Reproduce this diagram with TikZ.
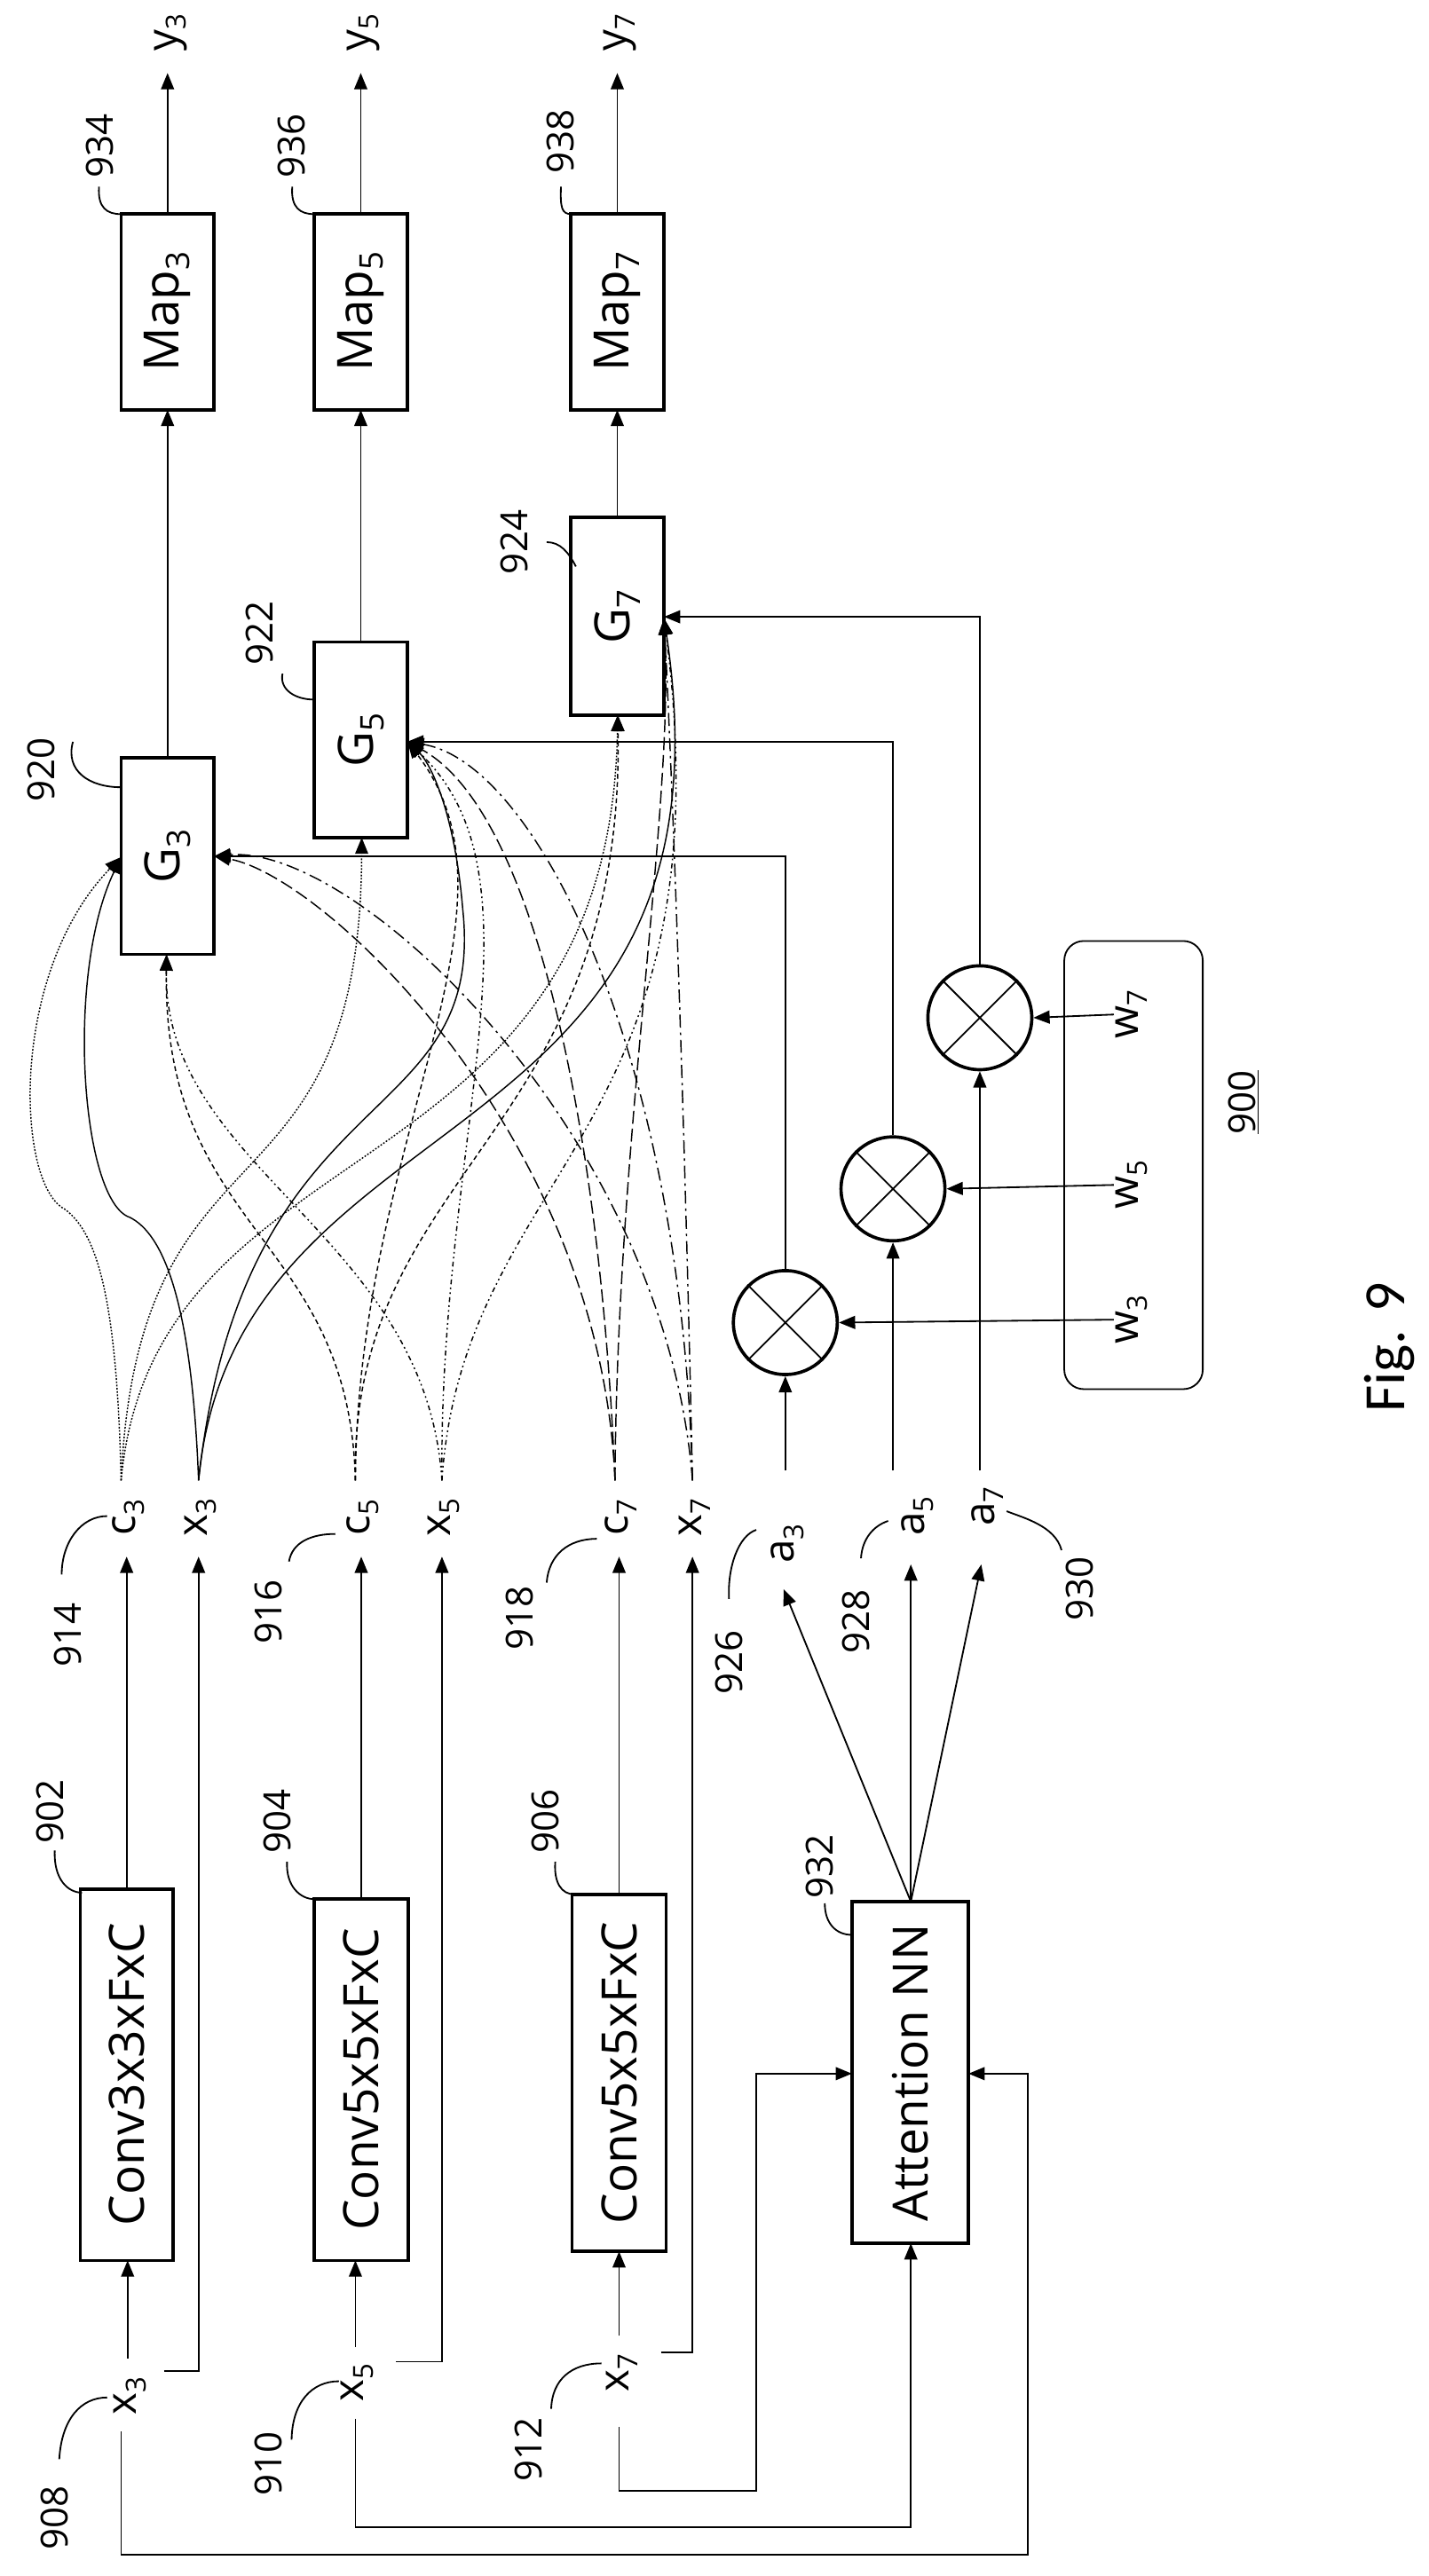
\documentclass[tikz,border=0pt]{standalone}
\usepackage{fontspec}
\setmainfont{Open Sans}
\newfontfamily\figfont{Carlito}
\usetikzlibrary{arrows.meta}
\newcommand{\sbs}[1]{\raisebox{-0.4ex}{\fontsize{17}{19}\selectfont #1}}
\newcommand{\sbb}[1]{\raisebox{-0.4ex}{\fontsize{20}{22}\selectfont #1}}
\begin{document}
\begin{tikzpicture}[x=1pt,y=-1pt,
  lbl/.style={rotate=90,font=\fontsize{26}{30}\selectfont,inner sep=1pt},
  blbl/.style={rotate=90,font=\fontsize{30}{34}\selectfont,inner sep=1pt},
  num/.style={rotate=90,font=\fontsize{23}{27}\selectfont,inner sep=1pt},
  ar/.style={-{Triangle[length=10pt,width=8pt]},line width=1pt},
  ln/.style={line width=1pt},
  bx/.style={line width=2pt},
  hk/.style={line width=1pt},
  sc3/.style={ar,densely dotted,line width=0.8pt},
  sx3/.style={ar,line width=0.8pt},
  sc5/.style={ar,densely dashed,line width=0.8pt},
  sx5/.style={ar,dash pattern=on 3pt off 2pt on 1pt off 2pt on 1pt off 2pt,line width=0.8pt},
  sc7/.style={ar,dash pattern=on 8pt off 3pt,line width=0.8pt},
  sx7/.style={ar,dash pattern=on 8pt off 3pt on 1.5pt off 3pt,line width=0.8pt},
  mul/.style={draw,circle,line width=2pt,minimum size=64pt,inner sep=0pt}]
\useasboundingbox (0,0) rectangle (880,1587);
% conv boxes
\draw[bx] (49.4,1164) rectangle (106.6,1392.6); \node[blbl] (conv3) at (78,1278) {Conv3x3xFxC};
\draw[bx] (193.6,1170) rectangle (251.4,1392.6); \node[blbl] (conv5) at (222.5,1281) {Conv5x5xFxC};
\draw[bx] (352.4,1167) rectangle (410.2,1387); \node[blbl] (conv7) at (381.3,1277) {Conv5x5xFxC};
\draw[bx] (524.7,1171.5) rectangle (596.5,1382); \node[blbl] (att) at (560.6,1277) {Attention NN};
% G and Map boxes
\draw[bx] (74.6,467) rectangle (131.9,588); \node[blbl] (g3) at (103.2,527.5) {G\sbb{3}};
\draw[bx] (193.6,395.6) rectangle (250.8,516); \node[blbl] (g5) at (222.2,456) {G\sbb{5}};
\draw[bx] (351.5,318.7) rectangle (409,440.5); \node[blbl] (g7) at (380.2,380) {G\sbb{7}};
\draw[bx] (74.6,131.9) rectangle (131.9,252.5); \node[blbl] (m3) at (103.2,192) {Map\sbb{3}};
\draw[bx] (193.6,131.9) rectangle (250.8,252.5); \node[blbl] (m5) at (222.2,192) {Map\sbb{5}};
\draw[bx] (351.5,131.9) rectangle (409,252.5); \node[blbl] (m7) at (380.2,192) {Map\sbb{7}};
% inputs
\node[lbl] (ix3) at (80,1476) {x\sbs{3}};
\node[lbl] (ix5) at (220,1468) {x\sbs{5}};
\node[lbl] (ix7) at (383,1462) {x\sbs{7}};
\draw[ar] (78.6,1453) -- (78.6,1392.6);
\draw[ar] (218.9,1446) -- (218.9,1392.6);
\draw[ar] (381.3,1439) -- (381.3,1387);
\draw[ar] (101,1460.5) -- (122.3,1460.5) -- (122.3,959);
\draw[ar] (244,1455) -- (272.2,1455) -- (272.2,959);
\draw[ar] (407,1449) -- (426.5,1449) -- (426.5,959);
\draw[ar] (381.3,1495) -- (381.3,1534.6) -- (465.8,1534.6) -- (465.8,1277.5) -- (524.7,1277.5);
\draw[ar] (218.9,1490) -- (218.9,1557) -- (561,1557) -- (561,1382);
\draw[ar] (74.6,1498) -- (74.6,1573.8) -- (633,1573.8) -- (633,1277.5) -- (596.5,1277.5);
% conv outputs
\draw[ar] (78,1164) -- (78,959); \node[lbl] (c3) at (79,935) {c\sbs{3}};
\draw[ar] (222.5,1170) -- (222.5,959); \node[lbl] (c5) at (223.5,935) {c\sbs{5}};
\draw[ar] (381.3,1167) -- (381.3,959); \node[lbl] (c7) at (382.3,935) {c\sbs{7}};
\node[lbl] (x3) at (123.5,935) {x\sbs{3}};
\node[lbl] (x5) at (273.5,935) {x\sbs{5}};
\node[lbl] (x7) at (428,935) {x\sbs{7}};
% attention outputs
\draw[ar] (561,1171.5) -- (482.6,979); \node[lbl] (a3) at (485,951) {a\sbs{3}};
\draw[ar] (561,1171.5) -- (561,963.8); \node[lbl] (a5) at (565,934) {a\sbs{5}};
\draw[ar] (561,1171.5) -- (604.4,963.8); \node[lbl] (a7) at (608,928) {a\sbs{7}};
% multipliers
\node[mul] (p3) at (483.7,814.8) {}; \draw[ln] (p3.north west)--(p3.south east) (p3.north east)--(p3.south west);
\node[mul] (p5) at (550,732.4) {}; \draw[ln] (p5.north west)--(p5.south east) (p5.north east)--(p5.south west);
\node[mul] (p7) at (603.5,627) {}; \draw[ln] (p7.north west)--(p7.south east) (p7.north east)--(p7.south west);
\draw[line width=1pt,rounded corners=12pt] (655.5,579.7) rectangle (740.8,855.8);
\node[lbl] (w3) at (697,813) {w\sbs{3}};
\node[lbl] (w5) at (697,730) {w\sbs{5}};
\node[lbl] (w7) at (697,625) {w\sbs{7}};
\draw[ar] (w3.north) -- (p3.east);
\draw[ar] (w5.north) -- (p5.east);
\draw[ar] (w7.north) -- (p7.east);
\draw[ar] (483.7,906) -- (p3.south);
\draw[ar] (550,906) -- (p5.south);
\draw[ar] (603.5,906) -- (p7.south);
\draw[ar] (p3.north) -- (483.7,527.5) -- (131.9,527.5);
\draw[ar] (p5.north) -- (550,457) -- (250.8,457);
\draw[ar] (p7.north) -- (603.5,380) -- (409,380);
% G -> Map -> y
\draw[ar] (103.2,467) -- (103.2,252.5); \draw[ar] (103.2,131.9) -- (103.2,45); \node[lbl] (y3) at (105,20) {y\sbs{3}};
\draw[ar] (222.2,395.6) -- (222.2,252.5); \draw[ar] (222.2,131.9) -- (222.2,45); \node[lbl] (y5) at (224,20) {y\sbs{5}};
\draw[ar] (380.2,318.7) -- (380.2,252.5); \draw[ar] (380.2,131.9) -- (380.2,45); \node[lbl] (y7) at (382,20) {y\sbs{7}};
% curves
\coordinate (sc3) at (74.6,912); \coordinate (sx3) at (122.3,912);
\coordinate (sc5) at (218.9,912); \coordinate (sx5) at (272.2,912);
\coordinate (sc7) at (378.8,912); \coordinate (sx7) at (426.5,912);
\draw[sc3] (sc3) .. controls (72,800) and (60,760) .. (40,745) .. controls (10,730) and (5,600) .. (74.6,528);
\draw[sx3] (sx3) .. controls (118,800) and (100,760) .. (80,750) .. controls (50,740) and (40,600) .. (74.6,528);
\draw[sc5] (sc5) .. controls (215,760) and (100,760) .. (102.6,588);
\draw[sx5] (sx5) .. controls (262,760) and (100,720) .. (102.6,588);
\draw[sc7] (sc7) .. controls (370,700) and (200,540) .. (131.9,527.5);
\draw[sx7] (sx7) .. controls (410,700) and (220,520) .. (131.9,527.5);
\draw[sc3] (sc3) .. controls (85,680) and (222,760) .. (222.8,516);
\draw[sx3] (sx3) .. controls (150,660) and (300,700) .. (285,560) .. controls (280,500) and (265,470) .. (251,457);
\draw[sc5] (sc5) .. controls (220,700) and (330,560) .. (251,457);
\draw[sx5] (sx5) .. controls (270,700) and (340,540) .. (251,457);
\draw[sc7] (sc7) .. controls (370,700) and (330,500) .. (251,457);
\draw[sx7] (sx7) .. controls (420,650) and (330,470) .. (251,457);
\draw[sc3] (sc3) .. controls (95,690) and (375,740) .. (380.5,440.5);
\draw[sc5] (sc5) .. controls (215,720) and (385,700) .. (380.5,440.5);
\draw[sx3] (sx3) .. controls (145,670) and (460,720) .. (409,381);
\draw[sx5] (sx5) .. controls (285,720) and (450,700) .. (409,381);
\draw[sc7] (sc7) .. controls (380,700) and (415,500) .. (409,381);
\draw[sx7] (sx7) .. controls (422,700) and (415,500) .. (409,381);
% reference numerals
\node[num] (n908) at (33.7,1551) {908}; \draw[hk] (36.5,1515) .. controls (38,1490) and (50,1477) .. (66,1477);
\node[num] (n910) at (165.6,1518) {910}; \draw[hk] (179.6,1503) .. controls (180,1480) and (192,1467) .. (208.8,1467);
\node[num] (n912) at (325.5,1509) {912}; \draw[hk] (339.5,1484) .. controls (340,1466) and (352,1456) .. (370.4,1456);
\node[num] (n902) at (30.9,1116) {902}; \draw[hk] (33.7,1140) .. controls (33,1158) and (42,1166) .. (50.5,1166);
\node[num] (n904) at (171,1122) {904}; \draw[hk] (176.8,1147) .. controls (176,1162) and (185,1170) .. (193.6,1170);
\node[num] (n906) at (336,1122) {906}; \draw[hk] (342,1147) .. controls (341,1160) and (346,1167) .. (353.6,1167);
\node[num] (n914) at (42,1007) {914}; \draw[hk] (38,970) .. controls (38,950) and (50,934) .. (66,934);
\node[num] (n916) at (165.6,993) {916}; \draw[hk] (178,962) .. controls (180,950) and (192,945) .. (206.5,945);
\node[num] (n918) at (320,997) {918}; \draw[hk] (336.7,975) .. controls (338,958) and (350,948) .. (367.6,948);
\node[num] (n926) at (449,1024) {926}; \draw[hk] (449,985) .. controls (448,965) and (455,946) .. (465.8,942.5);
\node[num] (n928) at (527.5,999) {928}; \draw[hk] (530.3,960) .. controls (531,948) and (538,940) .. (547,937);
\node[num] (n930) at (665,979) {930}; \draw[hk] (653.8,955) .. controls (650,940) and (630,935) .. (620,931);
\node[num] (n932) at (505,1150) {932}; \draw[hk] (508,1172.6) .. controls (508,1185) and (515,1192) .. (524.7,1192);
\node[num] (n934) at (61.7,90) {934}; \draw[hk] (61,115) .. controls (60,128) and (66,132) .. (74.6,131.9);
\node[num] (n936) at (179.6,90) {936}; \draw[hk] (180,115) .. controls (179,128) and (185,132) .. (193.6,131.9);
\node[num] (n938) at (345,87) {938}; \draw[hk] (345.5,115) .. controls (345,128) and (346,132) .. (352,131.9);
\node[num] (n920) at (25.3,474) {920}; \draw[hk] (44.9,457) .. controls (40,475) and (55,485) .. (74.6,485);
\node[num] (n922) at (160,390) {922}; \draw[hk] (174,415) .. controls (172,425) and (182,431) .. (193.6,431);
\node[num] (n924) at (317,334) {924}; \draw[hk] (336.7,334) .. controls (345,334) and (350,340) .. (354.7,349);
\node[num] (n900) at (766,679) {\underline{900}};
\node[rotate=90,font=\figfont\fontsize{36}{40}\selectfont] (fig) at (856,830) {Fig. 9};
\end{tikzpicture}
\end{document}
